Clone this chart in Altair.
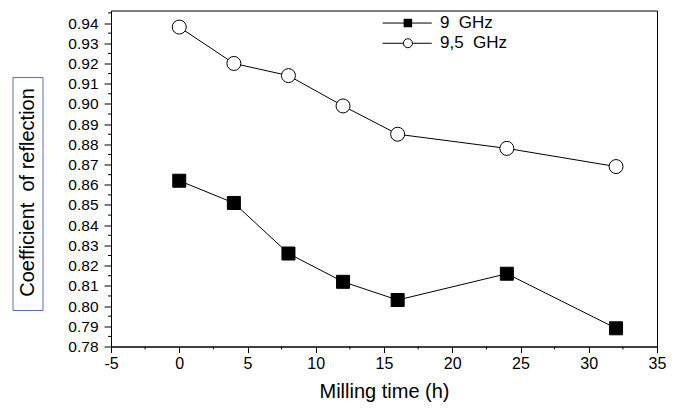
import altair as alt
import pandas as pd

# ---- data ----
time_h = [0, 4, 8, 12, 16, 24, 32]
refl_9ghz = [0.862, 0.851, 0.826, 0.812, 0.803, 0.816, 0.789]
refl_95ghz = [0.938, 0.920, 0.914, 0.899, 0.885, 0.878, 0.869]
series_names = ["9\u00a0\u00a0GHz", "9,5\u00a0\u00a0GHz"]

x_major = [-5, 0, 5, 10, 15, 20, 25, 30, 35]
x_minor = [-2.5, 2.5, 7.5, 12.5, 17.5, 22.5, 27.5, 32.5]
y_major = [0.78, 0.79, 0.80, 0.81, 0.82, 0.83, 0.84, 0.85, 0.86,
           0.87, 0.88, 0.89, 0.90, 0.91, 0.92, 0.93, 0.94]
y_minor = [0.785, 0.795, 0.805, 0.815, 0.825, 0.835, 0.845, 0.855, 0.865,
           0.875, 0.885, 0.895, 0.905, 0.915, 0.925, 0.935, 0.945]

# legend placement (data units)
legend_rows = [0.940, 0.930]
legend_line = [14.9, 18.5]
legend_sym_x = 16.75
legend_text_x = 19.1

FONT = "Liberation Sans"
W, H = 546, 336
xs = alt.Scale(domain=[-5, 35], nice=False, zero=False)
ys = alt.Scale(domain=[0.78, 0.9462], nice=False, zero=False)

df = pd.DataFrame({
    "t": time_h * 2,
    "r": refl_9ghz + refl_95ghz,
    "series": [series_names[0]] * len(time_h) + [series_names[1]] * len(time_h),
})

lines = alt.Chart(df).mark_line(color="black", strokeWidth=1).encode(
    x=alt.X("t:Q", scale=xs, axis=alt.Axis(
        orient="bottom", values=x_major, labelExpr="'' + datum.value", tickSize=6, labelPadding=3,
        labelFontSize=16, labelFont=FONT, labelColor="black", labelFlush=False,
        labelOverlap=False, domainColor="black", tickColor="black", grid=False,
        title="Milling time (h)", titleFont=FONT, titleFontSize=20, titleFontWeight="normal",
        titleColor="black", titleY=51, titleBaseline="alphabetic")),
    y=alt.Y("r:Q", scale=ys, axis=alt.Axis(
        orient="left", values=y_major, format=".2f", tickSize=7, labelPadding=6,
        labelFontSize=15.5, labelFont=FONT, labelColor="black", labelFlush=False,
        labelOverlap=False, domainColor="black", tickColor="black", grid=False,
        title="Coefficient\u00a0\u00a0of reflection", titleFont=FONT, titleFontSize=20,
        titleFontWeight="normal", titleColor="black", titleX=-84, titleY=181.5,
        titleAngle=270, titleAlign="center", titleBaseline="middle")),
    detail="series:N",
)

# minor ticks (outward, short)
minor_y = alt.Chart(pd.DataFrame({"v": y_minor})).mark_rule(color="black", strokeWidth=1).encode(
    y=alt.Y("v:Q", scale=ys, axis=None), x=alt.value(-3), x2=alt.value(0))
minor_x = alt.Chart(pd.DataFrame({"v": x_minor})).mark_rule(color="black", strokeWidth=1).encode(
    x=alt.X("v:Q", scale=xs, axis=None), y=alt.value(H), y2=alt.value(H + 3))

styles = [
    {"shape": "square", "fill": "black", "size": 169, "lsize": 72},
    {"shape": "circle", "fill": "white", "size": 196, "lsize": 81},
]

layers = [lines, minor_y, minor_x]
for i, name in enumerate(series_names):
    st = styles[i]
    sub = df[df["series"] == name]
    layers.append(
        alt.Chart(sub).mark_point(shape=st["shape"], filled=True, fill=st["fill"],
                                  stroke="black", strokeWidth=1, size=st["size"], opacity=1).encode(
            x=alt.X("t:Q", scale=xs, axis=None),
            y=alt.Y("r:Q", scale=ys, axis=None),
        )
    )
    leg = pd.DataFrame({"x1": [legend_line[0]], "x2": [legend_line[1]], "xs": [legend_sym_x],
                        "xt": [legend_text_x], "y": [legend_rows[i]], "label": [name]})
    layers.append(
        alt.Chart(leg).mark_rule(color="black", strokeWidth=1).encode(
            x=alt.X("x1:Q", scale=xs, axis=None), x2="x2:Q",
            y=alt.Y("y:Q", scale=ys, axis=None))
    )
    layers.append(
        alt.Chart(leg).mark_point(shape=st["shape"], filled=True, fill=st["fill"],
                                  stroke="black", strokeWidth=1 if st["fill"] == "white" else 0,
                                  size=st["lsize"], opacity=1).encode(
            x=alt.X("xs:Q", scale=xs, axis=None),
            y=alt.Y("y:Q", scale=ys, axis=None))
    )
    layers.append(
        alt.Chart(leg).mark_text(align="left", baseline="middle", font=FONT, fontSize=17,
                                 color="black").encode(
            x=alt.X("xt:Q", scale=xs, axis=None),
            y=alt.Y("y:Q", scale=ys, axis=None),
            text="label:N")
    )

box = alt.Chart(pd.DataFrame({"a": [0]})).mark_rect(
    fill="white", fillOpacity=0, stroke="#5470b8", strokeWidth=1).encode(
    x=alt.value(-98), x2=alt.value(-68), y=alt.value(67), y2=alt.value(300))
layers.append(box)

chart = alt.layer(*layers).resolve_axis(x="independent", y="independent").properties(
    width=W, height=H,
    autosize=alt.AutoSizeParams(type="none"),
    padding={"left": 103, "top": 2.5, "right": 17, "bottom": 55.5},
    background="white",
).configure_view(stroke="black", strokeWidth=1)

chart.save("out.html", embed_options={"renderer": "svg", "actions": False})
